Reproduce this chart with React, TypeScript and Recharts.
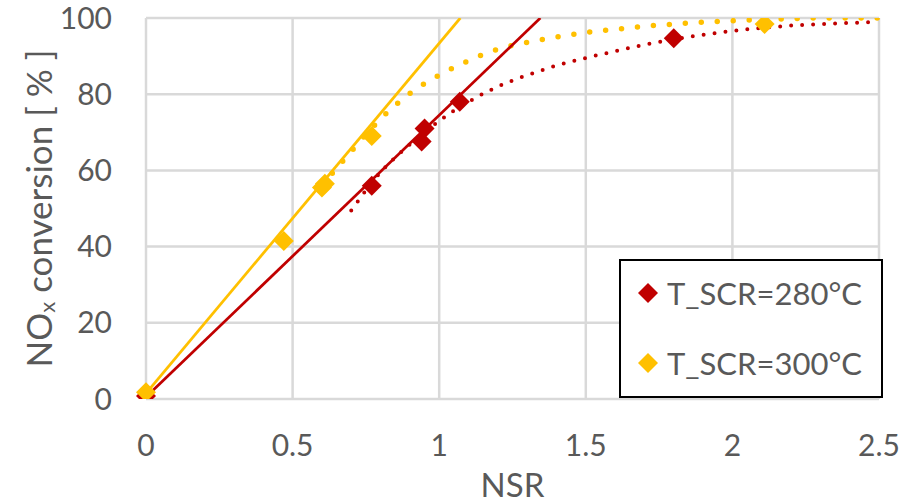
import React from 'react';
import { ComposedChart, Line, Scatter, XAxis, YAxis, CartesianGrid, Legend } from 'recharts';

// measured points
const nsr280 = [0, 0.77, 0.94, 0.95, 1.07, 1.8];
const conv280 = [0.8, 56, 67.6, 71, 78, 94.7];
const nsr300 = [0, 0.47, 0.6, 0.61, 0.77, 2.11];
const conv300 = [1.8, 41.5, 55.5, 56.5, 69, 98.4];

// linear trendlines (end where they leave the plot)
const linNsr280 = [0, 1.345];
const linConv280 = [0.5, 100];
const linNsr300 = [0, 1.072];
const linConv300 = [1.5, 100];

// saturation fits, dotted
const fitNsr280 = [0.7, 0.8, 0.9, 1.0, 1.1, 1.2, 1.3, 1.4, 1.5, 1.6, 1.7, 1.8, 1.9, 2.0, 2.1, 2.2, 2.3, 2.4, 2.5];
const fitConv280 = [49.5, 59.5, 66.8, 73, 78, 82, 85, 87.5, 89.5, 91.3, 93, 94.4, 95.6, 96.6, 97.4, 98, 98.4, 98.7, 99];
const fitNsr300 = [0.6, 0.7, 0.8, 0.9, 1.0, 1.1, 1.2, 1.3, 1.4, 1.5, 1.6, 1.7, 1.8, 1.9, 2.0, 2.1, 2.2, 2.3, 2.4, 2.5];
const fitConv300 = [56, 65, 73.5, 80.2, 85, 88.8, 91.8, 93.6, 95, 96.2, 97, 97.8, 98.4, 98.9, 99.3, 99.6, 99.8, 100, 100, 100];

const xTicks = [0, 0.5, 1, 1.5, 2, 2.5];
const yTicks = [0, 20, 40, 60, 80, 100];

const RED = '#C00000';
const YELLOW = '#FFC000';
const TEXT = '#595959';
const FONT = 'Lato, "Open Sans", sans-serif';

const toPoints = (xs: number[], ys: number[]) => xs.map((x, i) => ({ x, y: ys[i] }));

const pts280 = toPoints(nsr280, conv280);
const pts300 = toPoints(nsr300, conv300);
const lin280 = toPoints(linNsr280, linConv280);
const lin300 = toPoints(linNsr300, linConv300);
const fit280 = toPoints(fitNsr280, fitConv280);
const fit300 = toPoints(fitNsr300, fitConv300);

const Diamond = ({ cx, cy, fill, r = 10 }: any) => (
  <path d={`M${cx},${cy - r}L${cx + r},${cy}L${cx},${cy + r}L${cx - r},${cy}Z`} fill={fill} />
);

const YLabel = ({ viewBox }: any) => {
  const cx = 38;
  const cy = viewBox.y + viewBox.height / 2;
  return (
    <text
      x={cx}
      y={cy}
      transform={`rotate(-90, ${cx}, ${cy})`}
      textAnchor="middle"
      dominantBaseline="central"
      fill={TEXT}
      fontSize={35}
      fontFamily={FONT}
    >
      NO<tspan fontSize={22} dy={8}>x</tspan>
      <tspan dy={-8}> conversion [ % ]</tspan>
    </text>
  );
};

const XLabel = ({ viewBox }: any) => (
  <text
    x={viewBox.x + viewBox.width / 2}
    y={484}
    textAnchor="middle"
    dominantBaseline="central"
    fill={TEXT}
    fontSize={33}
    fontFamily={FONT}
  >
    NSR
  </text>
);

const LegendBox = () => (
  <div
    style={{
      boxSizing: 'border-box',
      width: 264,
      height: 139,
      border: '2.5px solid #000',
      background: '#fff',
      fontFamily: FONT,
      color: TEXT,
      fontSize: 31,
      paddingLeft: 16,
    }}
  >
    {[
      { name: 'T_SCR=280°C', color: RED },
      { name: 'T_SCR=300°C', color: YELLOW },
    ].map((e, i) => (
      <div key={e.name} style={{ display: 'flex', alignItems: 'center', height: 34, marginTop: i === 0 ? 15 : 36 }}>
        <svg width={22} height={22} style={{ marginRight: 8 }}>
          <Diamond cx={11} cy={11} r={10} fill={e.color} />
        </svg>
        <span>{e.name}</span>
      </div>
    ))}
  </div>
);

export default function App() {
  return (
    <div style={{ position: 'fixed', left: 0, top: 0, width: 914, height: 504, background: '#fff', fontFamily: FONT }}>
      <ComposedChart width={914} height={504} margin={{ top: 18, right: 35, left: 0, bottom: 0 }}>
        <CartesianGrid stroke="#D9D9D9" strokeWidth={2.5} />
        <XAxis
          type="number"
          dataKey="x"
          domain={[0, 2.5]}
          ticks={xTicks}
          height={105}
          axisLine={false}
          tickLine={false}
          tickSize={0}
          tickMargin={36}
          tick={{ fill: TEXT, fontSize: 30, fontFamily: FONT }}
          label={<XLabel />}
        />
        <YAxis
          type="number"
          dataKey="y"
          domain={[0, 100]}
          ticks={yTicks}
          width={146}
          axisLine={false}
          tickLine={false}
          tickSize={0}
          tickMargin={34}
          allowDataOverflow
          tick={{ fill: TEXT, fontSize: 30, fontFamily: FONT }}
          label={<YLabel />}
        />
        <Legend
          layout="vertical"
          align="center"
          verticalAlign="middle"
          content={<LegendBox />}
          wrapperStyle={{ left: 619, top: 259, width: 264, height: 139 }}
        />
        <Line data={fit280} dataKey="y" type="monotone" stroke={RED} strokeWidth={4} strokeDasharray="0 11" strokeLinecap="round" dot={false} activeDot={false} legendType="none" isAnimationActive={false} />
        <Line data={fit300} dataKey="y" type="monotone" stroke={YELLOW} strokeWidth={5.5} strokeDasharray="0 16" strokeLinecap="round" dot={false} activeDot={false} legendType="none" isAnimationActive={false} />
        <Line data={lin280} dataKey="y" type="linear" stroke={RED} strokeWidth={2.75} dot={false} activeDot={false} legendType="none" isAnimationActive={false} />
        <Line data={lin300} dataKey="y" type="linear" stroke={YELLOW} strokeWidth={2.75} dot={false} activeDot={false} legendType="none" isAnimationActive={false} />
        <Scatter name="T_SCR=280°C" data={pts280} fill={RED} shape={(p: any) => <Diamond cx={p.cx} cy={p.cy} fill={RED} />} isAnimationActive={false} />
        <Scatter name="T_SCR=300°C" data={pts300} fill={YELLOW} shape={(p: any) => <Diamond cx={p.cx} cy={p.cy} fill={YELLOW} />} isAnimationActive={false} />
      </ComposedChart>
    </div>
  );
}
